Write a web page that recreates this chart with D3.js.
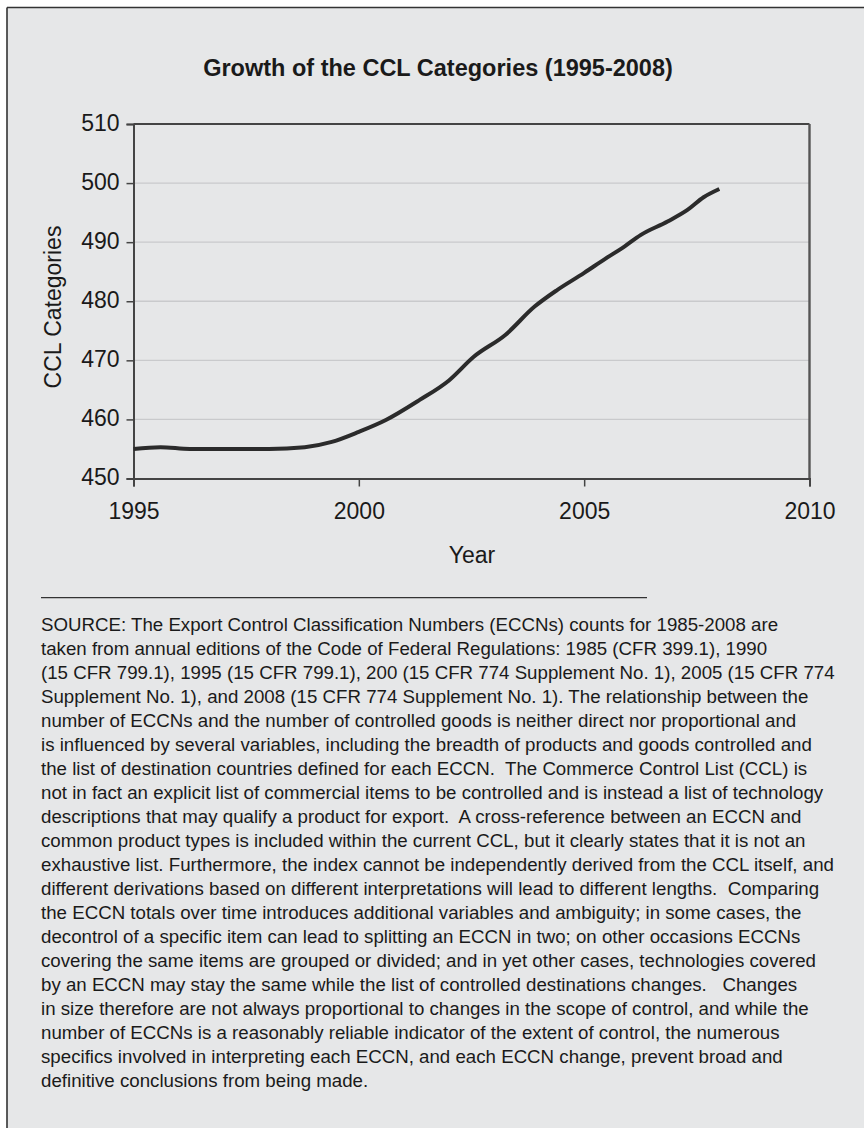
<!DOCTYPE html>
<html>
<head>
<meta charset="utf-8">
<script src="https://cdn.jsdelivr.net/npm/d3@7"></script>
<style>
  html, body { margin: 0; padding: 0; background: #ffffff; }
  svg { display: block; }
  text { font-family: "Liberation Sans", Arial, Helvetica, sans-serif; fill: #1a1a1a; }
</style>
</head>
<body>
<svg id="chart" width="864" height="1128"></svg>
<script>
// Number of CCL categories (ECCNs) by year
const years  = [1995, 1995.6, 1996.25, 1997, 1998, 1998.8, 1999.4, 2000, 2000.6, 2001.35, 2002, 2002.55,
                2003.25, 2003.9, 2004.4, 2005, 2005.45, 2005.9, 2006.25, 2006.85, 2007.3, 2007.65, 2008];
const counts = [455.0, 455.3, 455.0, 455.0, 455.0, 455.3, 456.2, 457.9, 459.9, 463.3, 466.6, 470.6,
                474.3, 479.1, 481.9, 484.8, 487.1, 489.3, 491.2, 493.5, 495.5, 497.6, 499.0];

const xTicks = [1995, 2000, 2005, 2010];
const yTicks = [450, 460, 470, 480, 490, 500, 510];

const titleText = "Growth of the CCL Categories (1995-2008)";
const xLabel = "Year";
const yLabel = "CCL Categories";

const sourceLines = [
  "SOURCE: The Export Control Classification Numbers (ECCNs) counts for 1985-2008 are",
  "taken from annual editions of the Code of Federal Regulations: 1985 (CFR 399.1), 1990",
  "(15 CFR 799.1), 1995 (15 CFR 799.1), 200 (15 CFR 774 Supplement No. 1), 2005 (15 CFR 774",
  "Supplement No. 1), and 2008 (15 CFR 774 Supplement No. 1). The relationship between the",
  "number of ECCNs and the number of controlled goods is neither direct nor proportional and",
  "is influenced by several variables, including the breadth of products and goods controlled and",
  "the list of destination countries defined for each ECCN.  The Commerce Control List (CCL) is",
  "not in fact an explicit list of commercial items to be controlled and is instead a list of technology",
  "descriptions that may qualify a product for export.  A cross-reference between an ECCN and",
  "common product types is included within the current CCL, but it clearly states that it is not an",
  "exhaustive list. Furthermore, the index cannot be independently derived from the CCL itself, and",
  "different derivations based on different interpretations will lead to different lengths.  Comparing",
  "the ECCN totals over time introduces additional variables and ambiguity; in some cases, the",
  "decontrol of a specific item can lead to splitting an ECCN in two; on other occasions ECCNs",
  "covering the same items are grouped or divided; and in yet other cases, technologies covered",
  "by an ECCN may stay the same while the list of controlled destinations changes.   Changes",
  "in size therefore are not always proportional to changes in the scope of control, and while the",
  "number of ECCNs is a reasonably reliable indicator of the extent of control, the numerous",
  "specifics involved in interpreting each ECCN, and each ECCN change, prevent broad and",
  "definitive conclusions from being made."
];

const svg = d3.select("#chart");

// Panel background with its top and left rules
svg.append("rect").attr("x", 7).attr("y", 7.5).attr("width", 857).attr("height", 1120.5)
  .attr("fill", "#e6e7e8");
svg.append("line").attr("x1", 7).attr("x2", 864).attr("y1", 7.5).attr("y2", 7.5)
  .attr("stroke", "#333").attr("stroke-width", 1.6);
svg.append("line").attr("x1", 7).attr("x2", 7).attr("y1", 7.5).attr("y2", 1128)
  .attr("stroke", "#333").attr("stroke-width", 1.6);

// Title
svg.append("text").attr("x", 438).attr("y", 76)
  .attr("text-anchor", "middle")
  .style("font-size", "23.5px").style("font-weight", "bold")
  .text(titleText);

// Scales
const plot = { left: 133.5, right: 809.5, top: 124, bottom: 478.5 };
const x = d3.scaleLinear().domain([1995, 2010]).range([plot.left, plot.right]);
const y = d3.scaleLinear().domain([450, 510]).range([plot.bottom, plot.top]);

// Horizontal gridlines
svg.append("g").selectAll("line")
  .data(yTicks.filter(v => v > 450 && v < 510))
  .join("line")
  .attr("x1", plot.left).attr("x2", plot.right)
  .attr("y1", d => y(d)).attr("y2", d => y(d))
  .attr("stroke", "#c9cacc").attr("stroke-width", 1.3);

// Frame: top and right edges of the plot area
svg.append("line").attr("x1", plot.left).attr("x2", plot.right)
  .attr("y1", plot.top).attr("y2", plot.top)
  .attr("stroke", "#444").attr("stroke-width", 2);
svg.append("line").attr("x1", plot.right).attr("x2", plot.right)
  .attr("y1", plot.top).attr("y2", plot.bottom)
  .attr("stroke", "#555").attr("stroke-width", 2.4);

// Axes
const yAxis = d3.axisLeft(y).tickValues(yTicks).tickSize(7).tickPadding(7).tickFormat(d3.format("d"));
const xAxis = d3.axisBottom(x).tickValues(xTicks).tickSize(8).tickPadding(16).tickFormat(d3.format("d"));

const gy = svg.append("g").attr("transform", `translate(${plot.left},0)`).call(yAxis);
const gx = svg.append("g").attr("transform", `translate(0,${plot.bottom})`).call(xAxis);

[gx, gy].forEach(g => {
  g.select(".domain").attr("stroke", "#444").attr("stroke-width", 2);
  g.selectAll(".tick line").attr("stroke", "#444").attr("stroke-width", 1.5);
  g.selectAll(".tick text")
    .attr("fill", "#1a1a1a")
    .style("font-family", '"Liberation Sans", Arial, Helvetica, sans-serif')
    .style("font-size", "23px");
});
gy.selectAll(".tick text").attr("dy", "0.27em");

// Axis titles
svg.append("text").attr("x", 472).attr("y", 562.7)
  .attr("text-anchor", "middle").style("font-size", "23px").text(xLabel);
svg.append("text")
  .attr("transform", "translate(61,307) rotate(-90)")
  .attr("text-anchor", "middle").style("font-size", "23px").text(yLabel);

// Data line
const line = d3.line()
  .x((d, i) => x(years[i]))
  .y(d => y(d))
  .curve(d3.curveMonotoneX);
svg.append("path").datum(counts)
  .attr("d", line)
  .attr("fill", "none")
  .attr("stroke", "#2b2b2b")
  .attr("stroke-width", 4)
  .attr("stroke-linejoin", "round");

// Separator rule above the source note
svg.append("line").attr("x1", 41).attr("x2", 647).attr("y1", 597.7).attr("y2", 597.7)
  .attr("stroke", "#333").attr("stroke-width", 1.3);

// Source note
svg.append("g").selectAll("text")
  .data(sourceLines)
  .join("text")
  .attr("x", 41)
  .attr("y", (d, i) => 630.7 + i * 24)
  .attr("xml:space", "preserve")
  .style("white-space", "pre")
  .style("font-size", "18.7px")
  .text(d => d);
</script>
</body>
</html>
